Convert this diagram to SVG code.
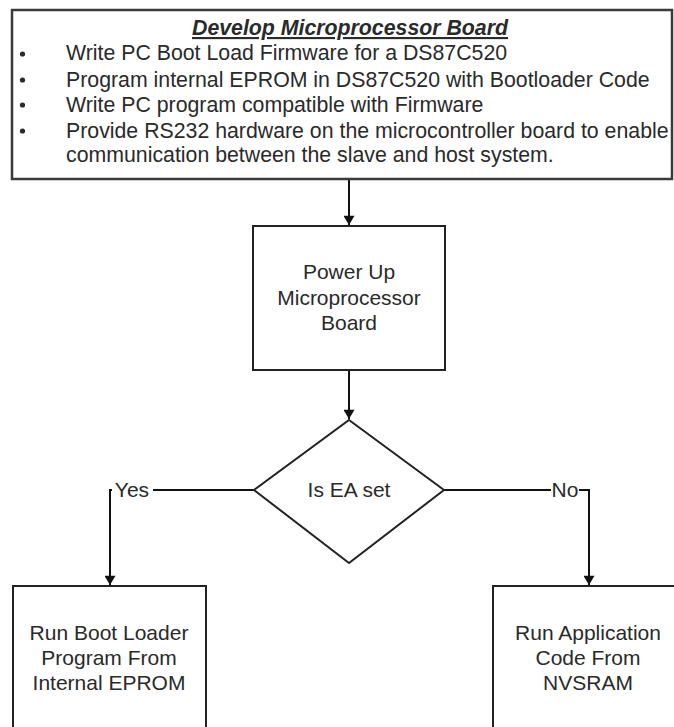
<svg xmlns="http://www.w3.org/2000/svg" width="674" height="727" viewBox="0 0 674 727">
<defs>
<marker id="arr" viewBox="0 0 10 12" refX="10" refY="6" markerWidth="11" markerHeight="11" markerUnits="userSpaceOnUse" orient="auto">
<path d="M0,0 L10,6 L0,12 Z" fill="#111"/>
</marker>
<style>
text{font-family:"Liberation Sans",Arial,sans-serif;font-size:21px;fill:#2a2a2a}
.c{text-anchor:middle}
.t{font-size:21.3px}
.box{fill:#fff;stroke:#222;stroke-width:2}
.conn{fill:none;stroke:#111;stroke-width:2}
.title{font-weight:bold;font-style:italic;text-decoration:underline}
</style>
</defs>
<rect width="674" height="727" fill="#fff"/>
<g id="connectors">
<path class="conn" d="M349,179 V225" marker-end="url(#arr)"/>
<path class="conn" d="M349,370 V419" marker-end="url(#arr)"/>
<path class="conn" d="M254,490 H110 V585" marker-end="url(#arr)"/>
<path class="conn" d="M444,490 H589 V585" marker-end="url(#arr)"/>
<rect x="112" y="478" width="41" height="24" fill="#fff"/>
<text x="132" y="497" class="c">Yes</text>
<rect x="551" y="478" width="28" height="24" fill="#fff"/>
<text x="565" y="497" class="c">No</text>
</g>
<g id="develop">
<rect x="12" y="10" width="660" height="169" fill="#fff" stroke="#3a3a3a" stroke-width="2.5"/>
<text x="350" y="35" class="c title t">Develop Microprocessor Board</text>
<g fill="#2a2a2a">
<circle cx="22.5" cy="54" r="2.6"/>
<circle cx="22.5" cy="80" r="2.6"/>
<circle cx="22.5" cy="105" r="2.6"/>
<circle cx="22.5" cy="131" r="2.6"/>
</g>
<text x="66" y="60" class="t">Write PC Boot Load Firmware for a DS87C520</text>
<text x="66" y="87" class="t">Program internal EPROM in DS87C520 with Bootloader Code</text>
<text x="66" y="112" class="t">Write PC program compatible with Firmware</text>
<text x="66" y="138" class="t">Provide RS232 hardware on the microcontroller board to enable</text>
<text x="66" y="162" class="t">communication between the slave and host system.</text>
</g>
<g id="powerup">
<rect class="box" x="253" y="226" width="192" height="144"/>
<text x="349" y="279" class="c">Power Up</text>
<text x="349" y="305" class="c">Microprocessor</text>
<text x="349" y="330" class="c">Board</text>
</g>
<g id="decision">
<polygon class="box" points="349,420 444,490 349,563 254,490" stroke-width="1.5"/>
<text x="349" y="497" class="c">Is EA set</text>
</g>
<g id="bootloader">
<rect class="box" x="13" y="586" width="193" height="150"/>
<text x="109" y="640" class="c">Run Boot Loader</text>
<text x="109" y="665" class="c">Program From</text>
<text x="109" y="690" class="c">Internal EPROM</text>
</g>
<g id="application">
<rect class="box" x="493" y="586" width="191" height="150"/>
<text x="588" y="640" class="c">Run Application</text>
<text x="588" y="665" class="c">Code From</text>
<text x="588" y="690" class="c">NVSRAM</text>
</g>
</svg>
